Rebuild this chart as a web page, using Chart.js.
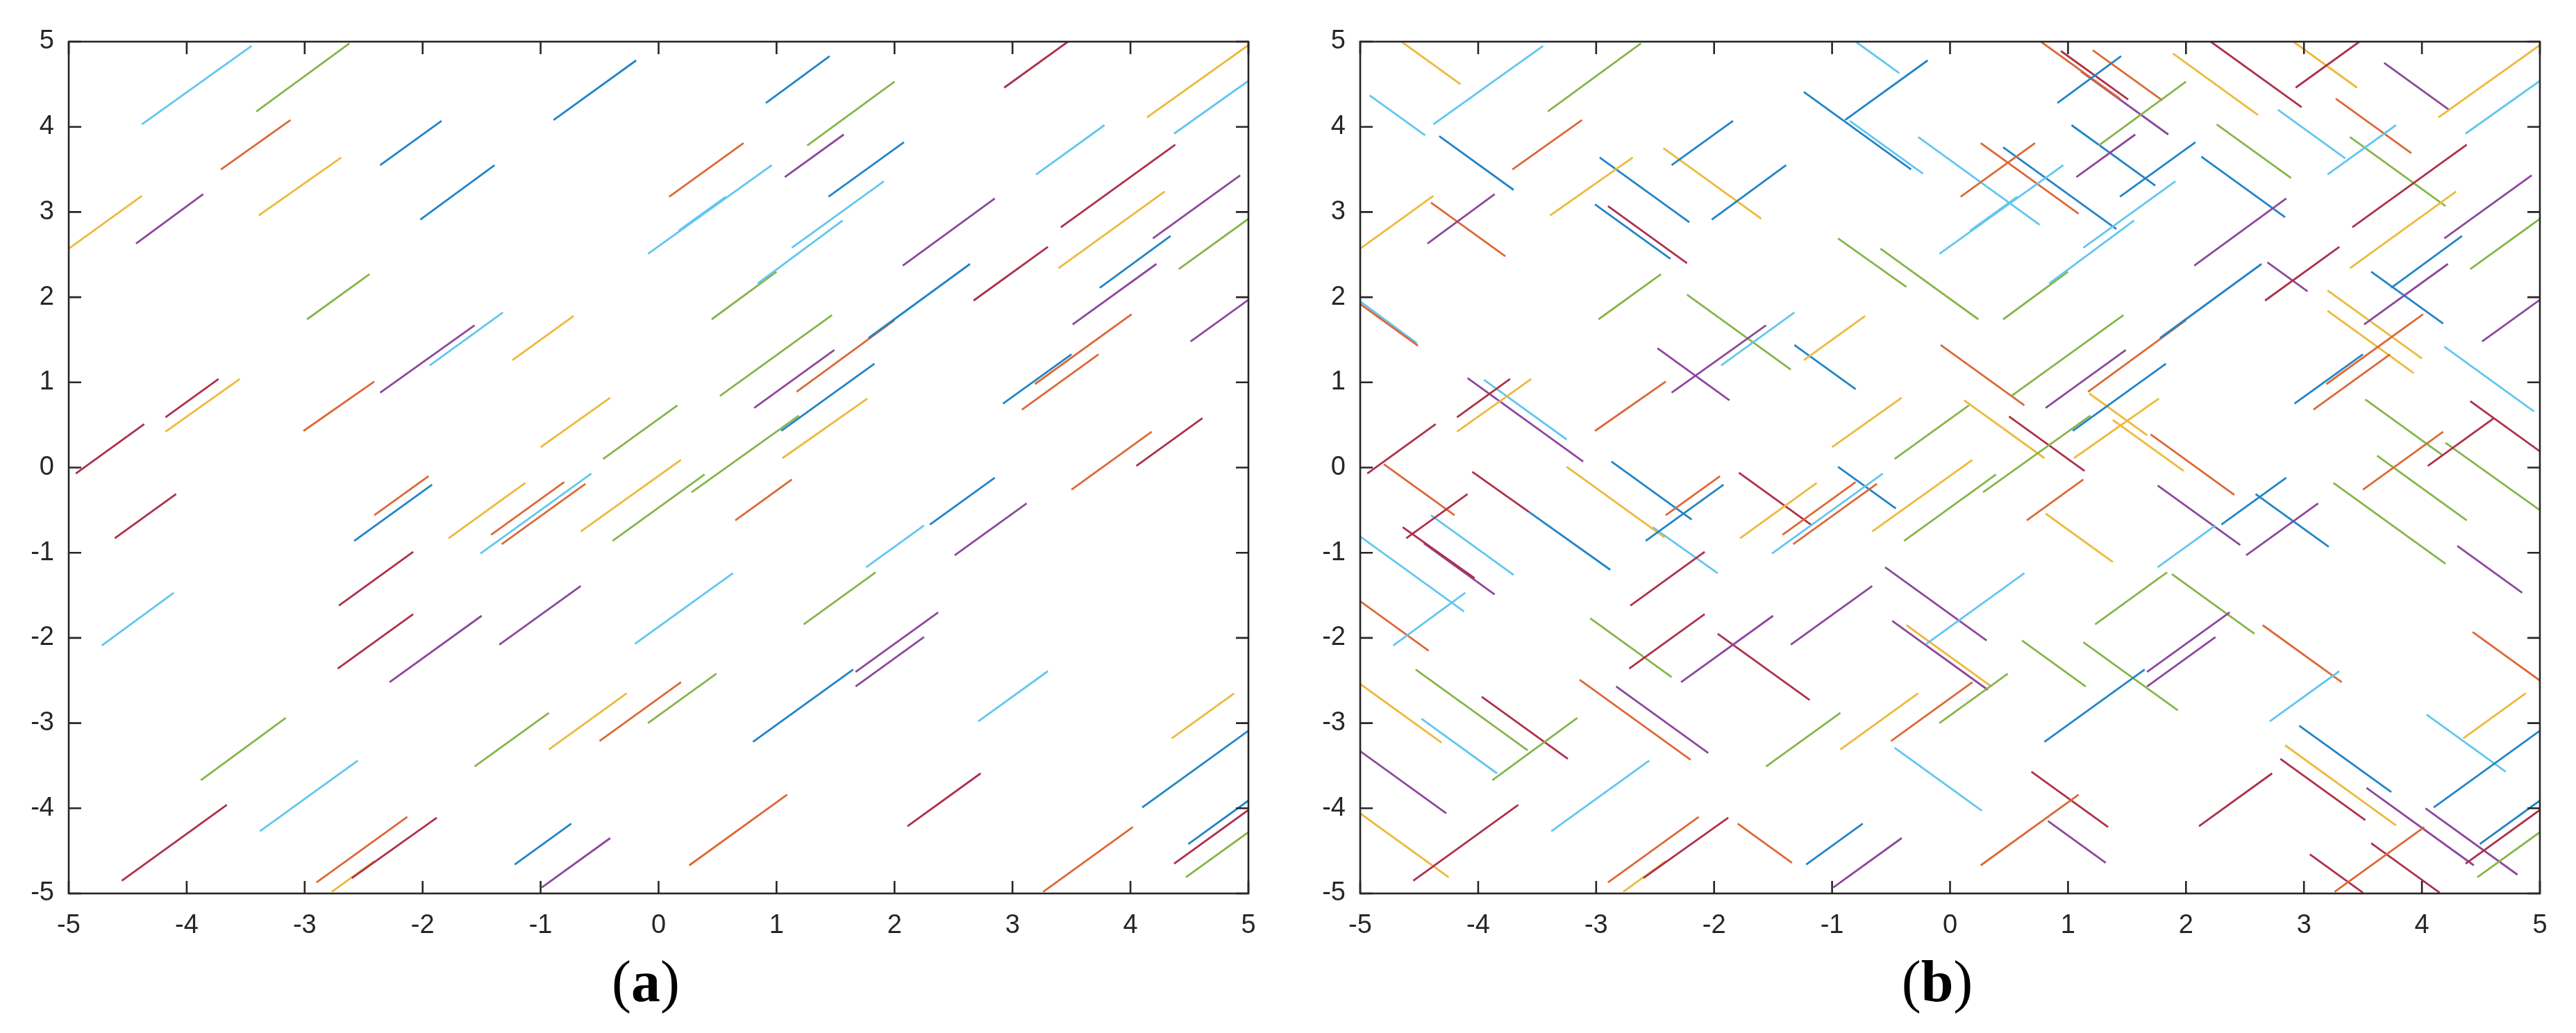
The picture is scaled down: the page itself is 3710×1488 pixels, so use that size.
<!DOCTYPE html>
<html>
<head>
<meta charset="utf-8">
<script src="https://cdn.jsdelivr.net/npm/chart.js@4.4.1/dist/chart.umd.min.js"></script>
<style>
  html, body { margin: 0; padding: 0; background: #fff; }
  body { width: 3710px; height: 1488px; position: relative; overflow: hidden; }
  canvas { position: absolute; top: 0; }
  #chartA { left: 0; }
  #chartB { left: 1860px; }
  .panel-label {
    position: absolute; top: 1372px; width: 300px; margin-left: -150px;
    text-align: center; font-family: 'Liberation Serif', 'Times New Roman', serif;
    font-size: 84px; line-height: 84px; color: #000;
  }
</style>
</head>
<body>
<canvas id="chartA" width="1840" height="1380"></canvas>
<canvas id="chartB" width="1840" height="1380"></canvas>
<div class="panel-label" style="left:930px">(<b>a</b>)</div>
<div class="panel-label" style="left:2790px">(<b>b</b>)</div>
<script>
// axis ticks (both axes run -5..5)
const tickValues = [-5, -4, -3, -2, -1, 0, 1, 2, 3, 4, 5];

// MATLAB default colour order, a touch lighter like the antialiased originals
const palette = {
  b: '#2184C6', o: '#DD6836', y: '#EEB93B', p: '#8C479B',
  g: '#86B54A', c: '#62C6F0', r: '#AD3049'
};

// rising segments [x1, y1, x2, y2] - shown in both panels
const risingSegs = [
  [-4.38, 4.03, -3.45, 4.95], [-3.41, 4.18, -2.62, 4.98], [-3.71, 3.50, -3.12, 4.08],
  [-2.36, 3.55, -1.84, 4.07], [-0.89, 4.08, -0.19, 4.78], [-2.02, 2.91, -1.39, 3.55],
  [-3.39, 2.96, -2.69, 3.64], [-5.00, 2.57, -4.38, 3.19], [-4.43, 2.63, -3.86, 3.21],
  [-2.98, 1.74, -2.45, 2.27], [-2.36, 0.88, -1.56, 1.67], [-1.94, 1.20, -1.32, 1.82],
  [-1.24, 1.26, -0.72, 1.78], [-4.18, 0.59, -3.73, 1.04], [-4.18, 0.42, -3.55, 1.04],
  [-3.01, 0.43, -2.41, 1.01], [-4.94, -0.07, -4.36, 0.51], [-1.00, 0.24, -0.41, 0.82],
  [-0.47, 0.10, 0.16, 0.73],
  [0.91, 4.28, 1.45, 4.83], [1.26, 3.78, 2.00, 4.53], [0.09, 3.18, 0.72, 3.81],
  [1.07, 3.41, 1.57, 3.91], [1.44, 3.18, 2.08, 3.82], [-0.09, 2.51, 0.96, 3.55],
  [0.17, 2.78, 0.57, 3.18], [1.13, 2.58, 1.91, 3.36], [0.84, 2.16, 1.56, 2.90],
  [0.45, 1.74, 1.00, 2.30], [2.07, 2.37, 2.85, 3.16], [2.93, 4.46, 3.47, 5.00],
  [4.14, 4.11, 5.00, 4.96], [4.37, 3.92, 5.00, 4.54], [3.20, 3.44, 3.78, 4.02],
  [3.41, 2.82, 4.38, 3.79], [3.39, 2.34, 4.29, 3.24], [4.19, 2.69, 4.93, 3.43],
  [4.41, 2.33, 5.00, 2.92], [3.74, 2.11, 4.34, 2.72], [2.67, 1.96, 3.30, 2.59],
  [3.51, 1.68, 4.22, 2.39], [4.51, 1.48, 5.00, 1.97], [1.78, 1.52, 2.64, 2.39],
  [1.17, 0.89, 2.00, 1.73], [0.52, 0.84, 1.47, 1.79], [0.81, 0.70, 1.49, 1.38],
  [1.04, 0.43, 1.83, 1.22], [0.28, -0.29, 1.19, 0.61], [1.05, 0.11, 1.77, 0.81],
  [-0.66, -0.75, 0.19, 0.09], [3.50, -0.26, 4.18, 0.42], [4.05, 0.02, 4.61, 0.58],
  [2.92, 0.75, 3.50, 1.33], [3.19, 0.98, 4.01, 1.80], [3.08, 0.68, 3.73, 1.33],
  [-4.61, -0.83, -4.09, -0.31], [-4.72, -2.09, -4.11, -1.47], [-2.41, -0.56, -1.95, -0.10],
  [-2.58, -0.86, -1.92, -0.20], [-1.78, -0.83, -1.13, -0.18], [-1.42, -0.79, -0.80, -0.17],
  [-1.51, -1.01, -0.57, -0.07], [-1.33, -0.90, -0.62, -0.19], [-0.39, -0.86, 0.39, -0.08],
  [-2.71, -1.62, -2.08, -0.99], [-2.72, -2.36, -2.08, -1.72], [-2.28, -2.52, -1.50, -1.74],
  [-1.35, -2.08, -0.66, -1.39], [-0.20, -2.07, 0.63, -1.24], [-3.88, -3.67, -3.16, -2.94],
  [-3.38, -4.27, -2.55, -3.44], [-4.55, -4.85, -3.66, -3.96], [-2.90, -4.87, -2.13, -4.10],
  [-2.60, -4.82, -1.88, -4.11], [-2.77, -4.98, -2.41, -4.62], [-1.22, -4.66, -0.74, -4.18],
  [-0.99, -4.93, -0.41, -4.35], [-1.56, -3.51, -0.93, -2.88], [-0.93, -3.31, -0.27, -2.65],
  [-0.50, -3.21, 0.19, -2.52], [-0.09, -3.00, 0.49, -2.42],
  [0.65, -0.62, 1.13, -0.14], [2.30, -0.67, 2.85, -0.12], [2.51, -1.03, 3.12, -0.42],
  [1.76, -1.17, 2.25, -0.68], [1.23, -1.84, 1.84, -1.23], [1.67, -2.40, 2.37, -1.70],
  [1.67, -2.57, 2.25, -1.99], [0.80, -3.22, 1.65, -2.37], [2.71, -2.98, 3.30, -2.39],
  [4.35, -3.18, 4.88, -2.65], [4.10, -3.99, 5.00, -3.09], [2.11, -4.21, 2.73, -3.59],
  [0.26, -4.67, 1.09, -3.84], [3.26, -4.98, 4.02, -4.22], [4.49, -4.42, 5.00, -3.91],
  [4.37, -4.65, 5.00, -4.02], [4.47, -4.81, 5.00, -4.28]
];
const risingColors = ('c g o b b b y y p g p c y r y o r y g ' +
  'b g o p b c c c c g p r y c c r y p g b r p p b o g p b g y y o r b o o ' +
  'r c o b y o c o g r r p p c g c r o r y b p g y o g ' +
  'o b p c g p p b c y b r o o b r g').split(' ');

// falling segments [x1, y1, x2, y2] - only in panel (b)
const fallingSegs = [
  [-4.65, 5.00, -4.15, 4.50], [-4.92, 4.37, -4.45, 3.90], [-4.33, 3.89, -3.70, 3.26],
  [-4.40, 3.11, -3.77, 2.48], [-2.97, 3.64, -2.21, 2.88], [-2.43, 3.75, -1.60, 2.92],
  [-3.01, 3.09, -2.37, 2.45], [-2.90, 3.07, -2.23, 2.40], [-1.24, 4.41, -0.33, 3.50],
  [-0.85, 4.07, -0.23, 3.45], [-0.80, 5.00, -0.43, 4.63], [-0.27, 3.88, 0.76, 2.85],
  [-0.95, 2.69, -0.37, 2.12], [-0.59, 2.57, 0.24, 1.74], [-2.23, 2.03, -1.35, 1.15],
  [-2.48, 1.40, -1.87, 0.79], [-1.32, 1.44, -0.80, 0.92], [-5.00, 1.92, -4.51, 1.43],
  [-5.00, 1.95, -4.52, 1.46], [-4.09, 1.05, -3.11, 0.07], [-3.95, 1.03, -3.25, 0.33],
  [-0.08, 1.44, 0.63, 0.73],
  [0.77, 5.00, 1.44, 4.33], [0.94, 4.89, 1.51, 4.32], [1.11, 4.65, 1.85, 3.91],
  [1.21, 4.90, 1.80, 4.31], [1.89, 4.86, 2.61, 4.14], [2.21, 5.00, 2.98, 4.23],
  [2.91, 5.00, 3.45, 4.46], [3.68, 4.75, 4.23, 4.20], [3.27, 4.33, 3.91, 3.69],
  [2.78, 4.20, 3.35, 3.63], [2.26, 4.03, 2.89, 3.40], [3.39, 3.88, 4.20, 3.07],
  [1.03, 4.02, 1.74, 3.31], [2.13, 3.65, 2.84, 2.94], [0.26, 3.81, 1.09, 2.98],
  [0.45, 3.76, 1.41, 2.80], [2.69, 2.41, 3.03, 2.07], [3.57, 2.30, 4.18, 1.69],
  [3.20, 2.08, 4.00, 1.28], [3.20, 1.84, 3.93, 1.11], [4.19, 1.42, 4.95, 0.66],
  [0.12, 0.79, 0.80, 0.11], [0.50, 0.60, 1.14, -0.04], [1.38, 0.56, 1.98, -0.04],
  [1.18, 0.87, 1.67, 0.38], [1.70, 0.39, 2.41, -0.32], [3.52, 0.80, 4.17, 0.15],
  [4.41, 0.78, 5.00, 0.19], [4.20, 0.29, 5.00, -0.50], [3.62, 0.14, 4.38, -0.62],
  [-4.80, 0.04, -4.20, -0.56], [-4.05, -0.05, -3.57, -0.52], [-3.57, -0.52, -2.88, -1.20],
  [-4.64, -0.70, -4.03, -1.30], [-4.46, -0.89, -3.86, -1.49], [-4.40, -0.56, -3.70, -1.26],
  [-5.00, -0.81, -4.12, -1.69], [-5.00, -1.57, -4.42, -2.15], [-3.25, 0.01, -2.42, -0.82],
  [-2.87, 0.07, -2.19, -0.61], [-2.52, -0.70, -1.97, -1.24], [-1.79, -0.06, -1.17, -0.68],
  [-0.95, 0.01, -0.46, -0.48], [-0.55, -1.17, 0.31, -2.03], [-0.49, -1.80, 0.32, -2.61],
  [-0.37, -1.85, 0.35, -2.57], [-3.05, -1.77, -2.36, -2.46], [-1.97, -1.95, -1.19, -2.73],
  [-4.53, -2.37, -3.58, -3.32], [-3.97, -2.69, -3.24, -3.42], [-5.00, -2.54, -4.31, -3.23],
  [-4.48, -2.95, -3.84, -3.59], [-3.14, -2.49, -2.20, -3.43], [-2.83, -2.57, -2.05, -3.35],
  [-5.00, -3.33, -4.27, -4.06], [-5.00, -4.06, -4.25, -4.81], [-1.80, -4.18, -1.34, -4.64],
  [-0.47, -3.29, 0.27, -4.03],
  [0.81, -0.54, 1.38, -1.11], [1.76, -0.21, 2.46, -0.91], [2.59, -0.31, 3.21, -0.93],
  [3.25, -0.18, 4.20, -1.13], [4.30, -0.92, 4.85, -1.47], [1.88, -1.25, 2.58, -1.95],
  [0.61, -2.03, 1.15, -2.57], [1.13, -2.05, 1.93, -2.85], [2.65, -1.85, 3.32, -2.52],
  [4.43, -1.93, 5.00, -2.50], [4.04, -2.90, 4.71, -3.57], [2.96, -3.03, 3.74, -3.81],
  [2.84, -3.26, 3.78, -4.20], [2.80, -3.42, 3.52, -4.14], [3.53, -3.76, 4.44, -4.67],
  [4.03, -4.00, 4.81, -4.78], [0.69, -3.57, 1.34, -4.22], [0.83, -4.15, 1.32, -4.64],
  [3.05, -4.54, 3.50, -4.99], [3.57, -4.41, 4.15, -4.99]
];
const fallingColors = ('y c b o b y b r b c c c g g g p b o c p c o ' +
  'o r p o y r y p o c g g b b o b p b y y c y r y y o g r g g ' +
  'o r b r p c c o y b c r b p p y g r g r y c o p p y o c ' +
  'y p b g p g g g o o c b y r p p r p r r').split(' ');

const axisColor = '#262626';

function toDatasets(segs, keys) {
  return segs.map((s, i) => ({
    data: [{ x: s[0], y: s[1] }, { x: s[2], y: s[3] }],
    showLine: true,
    borderColor: palette[keys[i]],
    borderWidth: 2.8,
    pointRadius: 0,
    fill: false
  }));
}

// box outline with inward ticks on all four sides, like MATLAB "box on"
const boxAxes = {
  id: 'boxAxes',
  afterDraw(chart) {
    const { ctx, chartArea: a, scales: { x, y } } = chart;
    const len = 18;
    ctx.save();
    ctx.strokeStyle = axisColor;
    ctx.lineWidth = 2.6;
    ctx.beginPath();
    x.ticks.forEach(t => {
      const px = x.getPixelForValue(t.value);
      ctx.moveTo(px, a.bottom); ctx.lineTo(px, a.bottom - len);
      ctx.moveTo(px, a.top); ctx.lineTo(px, a.top + len);
    });
    y.ticks.forEach(t => {
      const py = y.getPixelForValue(t.value);
      ctx.moveTo(a.left, py); ctx.lineTo(a.left + len, py);
      ctx.moveTo(a.right, py); ctx.lineTo(a.right - len, py);
    });
    ctx.stroke();
    ctx.strokeRect(a.left, a.top, a.right - a.left, a.bottom - a.top);
    ctx.restore();
  }
};

function axisOptions(isX) {
  return {
    type: 'linear',
    min: -5, max: 5,
    afterBuildTicks(scale) { scale.ticks = tickValues.map(v => ({ value: v })); },
    afterFit(scale) {
      if (isX) scale.height = 93; else scale.width = 99;
    },
    grid: { display: false, drawTicks: false },
    border: { display: false },
    ticks: {
      color: axisColor,
      padding: isX ? 24 : 21,
      font: { family: "'Liberation Sans', Arial, sans-serif", size: 38 },
      maxRotation: 0,
      autoSkip: false
    }
  };
}

function makeChart(id, datasets) {
  return new Chart(document.getElementById(id), {
    type: 'scatter',
    data: { datasets },
    options: {
      responsive: false,
      animation: false,
      devicePixelRatio: 1,
      layout: { padding: { top: 60, right: 42, left: 0, bottom: 0 } },
      plugins: { legend: { display: false }, tooltip: { enabled: false } },
      scales: { x: axisOptions(true), y: axisOptions(false) }
    },
    plugins: [boxAxes]
  });
}

makeChart('chartA', toDatasets(risingSegs, risingColors));
makeChart('chartB', toDatasets(risingSegs, risingColors).concat(toDatasets(fallingSegs, fallingColors)));
</script>
</body>
</html>
